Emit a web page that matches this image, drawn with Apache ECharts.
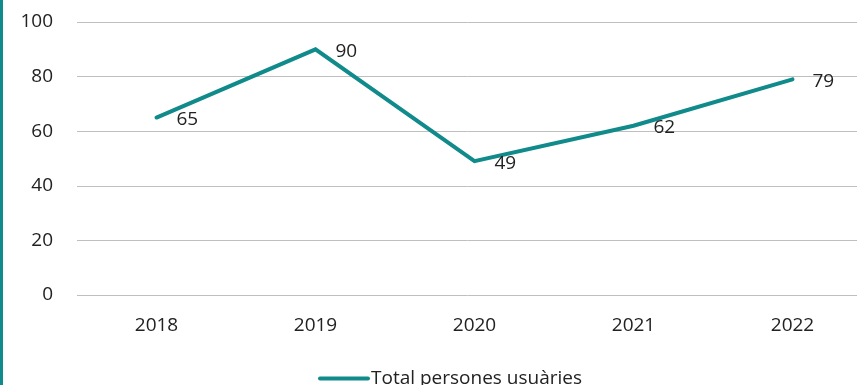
<!DOCTYPE html>
<html>
<head>
<meta charset="utf-8">
<script src="https://cdn.jsdelivr.net/npm/echarts@6/dist/echarts.min.js"></script>
<style>
  html, body { margin: 0; padding: 0; background: #ffffff; }
  #chart { width: 857px; height: 385px; }
</style>
</head>
<body>
<div id="chart"></div>
<script>
// Yearly totals of service users
const years = ['2018', '2019', '2020', '2021', '2022'];
const totalUsers = [65, 90, 49, 62, 79];
const yTicks = [0, 20, 40, 60, 80, 100];
const seriesName = 'Total persones usuàries';

const teal = '#108a8a';
const textColor = '#222222';
const fontFamily = '"Open Sans", "Liberation Sans", sans-serif';

const chart = echarts.init(document.getElementById('chart'), null, { renderer: 'canvas' });

chart.setOption({
  animation: false,
  backgroundColor: '#ffffff',
  textStyle: { fontFamily: fontFamily, color: textColor },
  graphic: [{
    type: 'rect',
    left: 0,
    top: 0,
    shape: { width: 3, height: 385 },
    style: { fill: teal }
  }],
  // plot area runs slightly past the right edge of the canvas
  grid: { left: 77, width: 795, top: 22, height: 273, containLabel: false, outerBoundsMode: 'none' },
  legend: {
    data: [seriesName],
    left: 313,
    top: 364,
    icon: 'path://M2,0 L50,0 A2,2 0 0 1 50,4 L2,4 A2,2 0 0 1 2,0 Z',
    itemWidth: 52,
    itemHeight: 4,
    itemGap: 10,
    textStyle: { fontSize: 19, color: textColor, fontFamily: fontFamily, padding: [0, 0, 0, -4] }
  },
  xAxis: {
    type: 'category',
    data: years,
    boundaryGap: true,
    axisLine: { show: false },
    axisTick: { show: false },
    axisLabel: { fontSize: 19, color: textColor, margin: 21, fontFamily: fontFamily }
  },
  yAxis: {
    type: 'value',
    min: yTicks[0],
    max: yTicks[yTicks.length - 1],
    interval: yTicks[1] - yTicks[0],
    axisLine: { show: false },
    axisTick: { show: false },
    axisLabel: { fontSize: 19, color: textColor, margin: 24, fontFamily: fontFamily },
    splitLine: { lineStyle: { color: '#bfbfbf', width: 1 } }
  },
  series: [{
    name: seriesName,
    type: 'line',
    data: totalUsers,
    symbol: 'circle',
    symbolSize: 0.01,
    showSymbol: true,
    lineStyle: { color: teal, width: 4, cap: 'round', join: 'miter' },
    itemStyle: { color: teal },
    label: {
      show: true,
      position: 'right',
      distance: 20,
      offset: [0, 2],
      fontSize: 19,
      color: textColor,
      fontFamily: fontFamily
    }
  }]
});
</script>
</body>
</html>
